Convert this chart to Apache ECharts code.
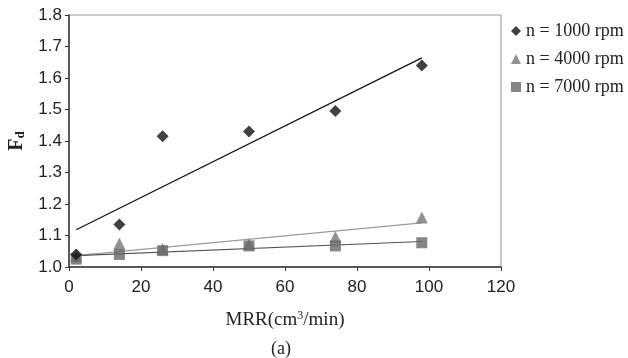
<!DOCTYPE html>
<html>
<head>
<meta charset="utf-8">
<script src="https://cdn.jsdelivr.net/npm/echarts@6/dist/echarts.min.js"></script>
<style>
  html, body { margin: 0; padding: 0; background: #fff; }
  #chart { width: 628px; height: 358px; }
</style>
</head>
<body>
<div id="chart"></div>
<script>
// MRR values (cm3/min)
const mrr = [2, 14, 26, 50, 74, 98];

// measured Fd per spindle speed
const fd1000 = [1.04, 1.135, 1.415, 1.43, 1.495, 1.64];
const fd4000 = [1.035, 1.075, 1.057, 1.072, 1.095, 1.157];
const fd7000 = [1.025, 1.04, 1.052, 1.067, 1.067, 1.077];

// trend line endpoints: [x, y]
const trend1000 = [[2, 1.118], [98, 1.664]];
const trend4000 = [[2, 1.036], [98, 1.14]];
const trend7000 = [[2, 1.036], [98, 1.081]];

const names = ['n = 1000 rpm', 'n = 4000 rpm', 'n = 7000 rpm'];

const pairs = (ys) => mrr.map((x, i) => [x, ys[i]]);

const chart = echarts.init(document.getElementById('chart'));

const serif = '"Liberation Serif", "DejaVu Serif", serif';
const sans = '"Liberation Sans", Arial, sans-serif';

const option = {
  animation: false,
  backgroundColor: '#fff',
  grid: {
    left: 69, top: 15, right: 127, bottom: 91,
    outerBoundsMode: 'none',
    show: true, borderColor: '#999', borderWidth: 1,
  },
  legend: {
    orient: 'vertical',
    left: 506, top: 17,
    itemWidth: 10, itemHeight: 10,
    itemGap: 10,
    data: names,
    textStyle: { fontFamily: serif, fontSize: 18, color: '#222' },
  },
  xAxis: {
    type: 'value', min: 0, max: 120, interval: 20,
    name: '{a|MRR(cm}{s|3}{a|/min)}',
    nameLocation: 'middle', nameGap: 43,
    nameTextStyle: {
      rich: {
        a: { fontFamily: serif, fontSize: 19, color: '#222' },
        s: { fontFamily: serif, fontSize: 12, color: '#222', padding: [0, 0, 8, 0] },
      },
    },
    axisLine: { lineStyle: { color: '#333', width: 1.5 } },
    axisTick: { show: true, inside: false, length: 4, lineStyle: { color: '#333' } },
    axisLabel: { fontFamily: sans, fontSize: 17, color: '#222', margin: 12 },
    splitLine: { show: false },
  },
  yAxis: {
    type: 'value', min: 1.0, max: 1.8, interval: 0.1,
    name: '{f|F}{d|d}',
    nameLocation: 'middle', nameGap: 41, nameRotate: 90,
    nameTextStyle: {
      rich: {
        f: { fontFamily: serif, fontSize: 20, fontWeight: 'bold', color: '#222' },
        d: { fontFamily: serif, fontSize: 13, fontWeight: 'bold', color: '#222', padding: [9, 0, 0, 0] },
      },
    },
    axisLine: { lineStyle: { color: '#333', width: 1.5 } },
    axisTick: { show: true, inside: false, length: 4, lineStyle: { color: '#333' } },
    axisLabel: {
      fontFamily: sans, fontSize: 17, color: '#222', margin: 7,
      formatter: (v) => v.toFixed(1),
    },
    splitLine: { show: false },
  },
  graphic: [
    {
      type: 'text', left: 271, top: 340,
      style: { text: '(a)', fontFamily: serif, fontSize: 18, fill: '#222' },
    },
  ],
  series: [
    {
      type: 'line', data: trend1000, symbol: 'none', silent: true,
      lineStyle: { color: '#111', width: 1.2 }, z: 1,
    },
    {
      type: 'line', data: trend4000, symbol: 'none', silent: true,
      lineStyle: { color: '#9a9a9a', width: 1.2 }, z: 1,
    },
    {
      type: 'line', data: trend7000, symbol: 'none', silent: true,
      lineStyle: { color: '#555', width: 1.2 }, z: 1,
    },
    {
      name: names[1], type: 'scatter', data: pairs(fd4000),
      symbol: 'triangle', symbolSize: 12,
      itemStyle: { color: '#777' }, z: 2,
    },
    {
      name: names[2], type: 'scatter', data: pairs(fd7000),
      symbol: 'rect', symbolSize: 11,
      itemStyle: { color: '#666' }, z: 3,
    },
    {
      name: names[0], type: 'scatter', data: pairs(fd1000),
      symbol: 'diamond', symbolSize: 12,
      itemStyle: { color: '#111' }, z: 4,
    },
  ],
};

chart.setOption(option);
</script>
</body>
</html>
